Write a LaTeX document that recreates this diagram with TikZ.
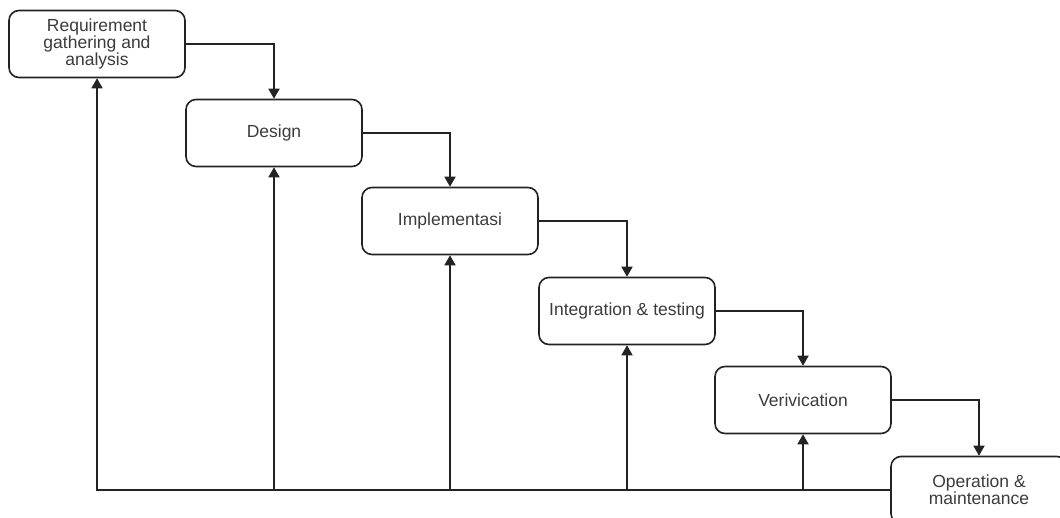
\documentclass[tikz,border=0pt]{standalone}
\usepackage{fontspec}
\setmainfont{Liberation Sans}
\usetikzlibrary{arrows.meta}
\definecolor{txt}{RGB}{60,60,60}
\definecolor{ln}{RGB}{35,35,35}
\tikzset{
  phase/.style={draw=ln, line width=1.6pt, rounded corners=10pt, minimum width=176pt, minimum height=67pt, align=center, text=txt, font=\fontsize{17.5}{15.5}\selectfont, inner sep=2pt, fill=white},
  flow/.style={draw=ln, line width=1.7pt, -{Triangle[length=10pt,width=11pt]}},
  feed/.style={draw=ln, line width=1.7pt, -{Triangle[length=10pt,width=11pt]}}
}
\begin{document}
\begin{tikzpicture}[x=1pt,y=-1pt]
\useasboundingbox (0,0) rectangle (1060,517);
\clip (0,0) rectangle (1060,517);
\fill[white] (0,0) rectangle (1060,517);
\node[phase] (b1) at (97,44) {Requirement\\gathering and\\analysis};
\node[phase] (b2) at (274,133) {Design};
\node[phase] (b3) at (450,221) {Implementasi};
\node[phase] (b4) at (627,311) {Integration \& testing};
\node[phase] (b5) at (803,400) {Verivication};
\node[phase] (b6) at (979,490) {Operation \&\\maintenance};
\draw[flow] (b1.east) -| (b2.north);
\draw[flow] (b2.east) -| (b3.north);
\draw[flow] (b3.east) -| (b4.north);
\draw[flow] (b4.east) -| (b5.north);
\draw[flow] (b5.east) -| (b6.north);
\coordinate (base) at (b6.west);
\draw[feed] (base) -| (b1.south);
\draw[feed] (b2.south |- base) -- (b2.south);
\draw[feed] (b3.south |- base) -- (b3.south);
\draw[feed] (b4.south |- base) -- (b4.south);
\draw[feed] (b5.south |- base) -- (b5.south);
\end{tikzpicture}
\end{document}
